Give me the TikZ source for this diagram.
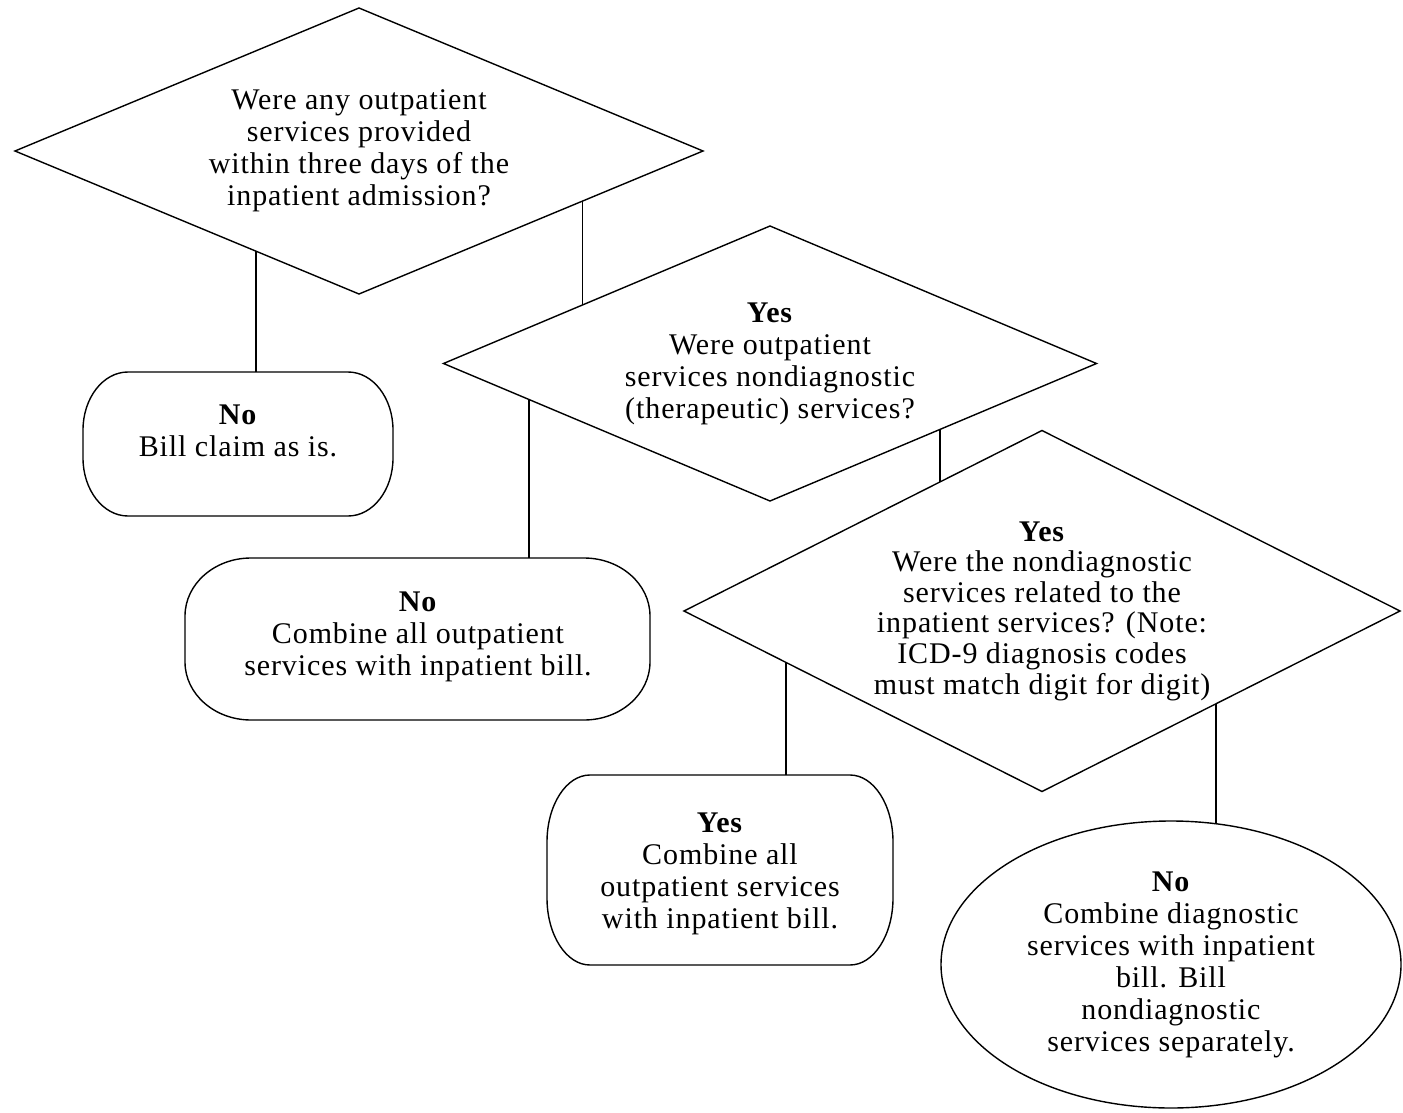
\documentclass[tikz,border=0pt]{standalone}
\usepackage{fontspec}
\setmainfont{Liberation Serif}[LetterSpace=3]
\usepackage{tikz}
\usetikzlibrary{positioning,calc,shapes.geometric}

\tikzset{
	txt/.style={align=center, inner sep=0pt, outer sep=0pt, font=\fontsize{30}{32}\selectfont},
	question/.style={txt, diamond, draw, line width=1.4pt, aspect=2},
	holder/.style={rectangle, draw=none, inner sep=0pt, outer sep=0pt},
	outline/.style={line width=1.4pt},
	link/.style={line width=1.4pt}
}

\newcommand{\Capsule}[3]{%
	\draw[outline] ([xshift=#2pt]#1.north west) -- ([xshift=-#2pt]#1.north east)
		arc[start angle=90, end angle=0, x radius=#2pt, y radius=#3pt]
		-- ([yshift=#3pt]#1.south east)
		arc[start angle=0, end angle=-90, x radius=#2pt, y radius=#3pt]
		-- ([xshift=#2pt]#1.south west)
		arc[start angle=-90, end angle=-180, x radius=#2pt, y radius=#3pt]
		-- ([yshift=-#3pt]#1.north west)
		arc[start angle=180, end angle=90, x radius=#2pt, y radius=#3pt]
		-- cycle;}

\begin{document}
\begin{tikzpicture}[x=1pt, y=-1pt]
	\useasboundingbox (0,0) rectangle (1403,1113);

	\node[question, minimum width=688pt, minimum height=286pt] (q1) at (359,151) {Were any outpatient\\services provided\\within three days of the\\inpatient admission?};
	\node[question, minimum width=653pt, minimum height=275pt] (q2) at (770,363.5) {\textbf{Yes}\\Were outpatient\\services nondiagnostic\\(therapeutic) services?};
	\node[question, minimum width=716pt, minimum height=361pt, font=\fontsize{30}{30.6}\selectfont] (q3) at (1042,611) {\textbf{Yes}\\Were the nondiagnostic\\services related to the\\inpatient services? (Note:\\ICD-9 diagnosis codes\\must match digit for digit)};

	\node[holder, minimum width=310pt, minimum height=144pt] (bill) at (238,444) {};
	\node[txt] (bill-t) at (238,431) {\textbf{No}\\Bill claim as is.};
	\Capsule{bill}{45}{58}

	\node[holder, minimum width=465pt, minimum height=162pt] (all) at (417.5,639) {};
	\node[txt] (all-t) at (418,637) {\textbf{No}\\Combine all outpatient\\services with inpatient bill.};
	\Capsule{all}{66}{58}

	\node[holder, minimum width=346pt, minimum height=190pt] (rel) at (720,870) {};
	\node[txt] (rel-t) at (720,874) {\textbf{Yes}\\Combine all\\outpatient services\\with inpatient bill.};
	\Capsule{rel}{43}{67}

	\node[txt, ellipse, draw, line width=1.4pt, minimum width=460pt, minimum height=287pt] (sep) at (1171,964.5) {\textbf{No}\\Combine diagnostic\\services with inpatient\\bill. Bill\\nondiagnostic\\services separately.};

	\coordinate (a1) at ($(q1.west)!0.70!(q1.south)$);
	\coordinate (a2) at ($(q1.south)!0.649!(q1.east)$);
	\coordinate (b2) at ($(q2.west)!0.424!(q2.north)$);
	\coordinate (a3) at ($(q2.west)!0.262!(q2.south)$);
	\coordinate (a4) at ($(q2.south)!0.521!(q2.east)$);
	\coordinate (b4) at ($(q3.west)!0.715!(q3.north)$);
	\coordinate (a5) at ($(q3.west)!0.285!(q3.south)$);
	\coordinate (a6) at ($(q3.south)!0.486!(q3.east)$);

	\draw[link] (a1) -- (a1 |- bill.north);
	\draw[link] (a2) -- (a2 |- b2);
	\draw[link] (a3) -- (a3 |- all.north);
	\draw[link] (a4) -- (a4 |- b4);
	\draw[link] (a5) -- (a5 |- rel.north);
	\draw[link] (a6) -- (a6 |- sep.72.3);
\end{tikzpicture}
\end{document}
